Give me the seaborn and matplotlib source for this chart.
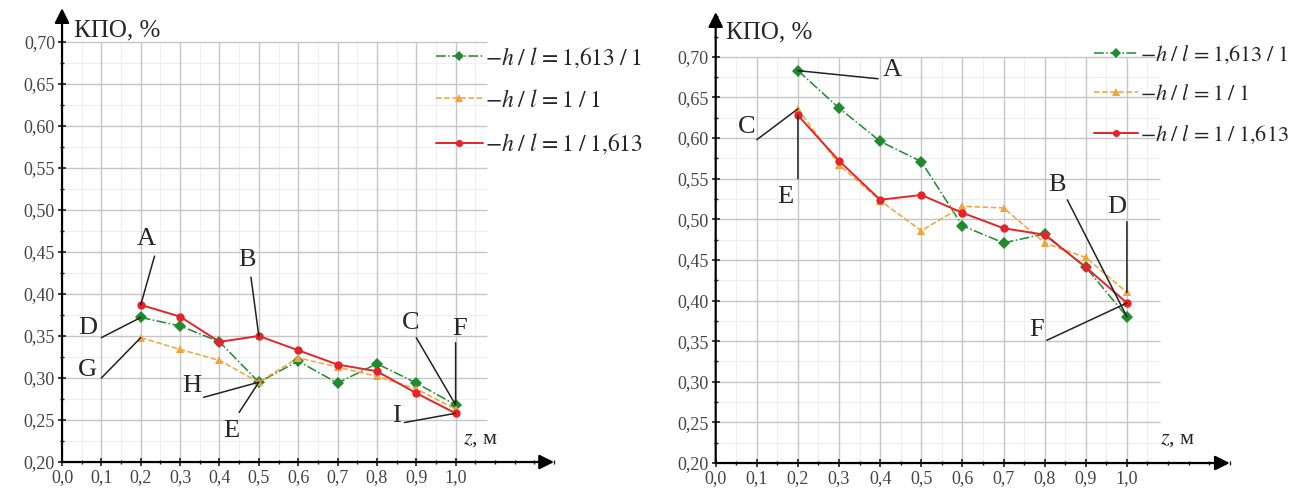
import numpy as np
import pandas as pd
import seaborn as sns
import matplotlib.pyplot as plt
from matplotlib.ticker import MultipleLocator, FuncFormatter

z = [0.2, 0.3, 0.4, 0.5, 0.6, 0.7, 0.8, 0.9, 1.0]

left_h1613 = [0.372, 0.362, 0.343, 0.295, 0.320, 0.294, 0.317, 0.294, 0.268]
left_h11 = [0.348, 0.334, 0.321, 0.295, 0.324, 0.313, 0.302, 0.287, 0.263]
left_h11613 = [0.387, 0.373, 0.343, 0.350, 0.333, 0.316, 0.308, 0.282, 0.258]

right_h1613 = [0.683, 0.637, 0.596, 0.571, 0.492, 0.471, 0.482, 0.441, 0.380]
right_h11 = [0.636, 0.567, 0.523, 0.486, 0.516, 0.514, 0.471, 0.453, 0.410]
right_h11613 = [0.628, 0.572, 0.524, 0.530, 0.508, 0.489, 0.481, 0.441, 0.397]

series_names = ['1,613/1', '1/1', '1/1,613']
labels = [r'$-h\;/\;l\, = 1{,}613\;/\;1$',
          r'$-h\;/\;l\, = 1\;/\;1$',
          r'$-h\;/\;l\, = 1\;/\;1{,}613$']
colors = ['#1f8a2e', '#f2a33a', '#e5232b']
markers = ['D', '^', 'o']
linestyles = ['-.', '--', '-']

x_ticks = np.round(np.arange(0, 1.01, 0.1), 2)
y_ticks = np.round(np.arange(0.20, 0.701, 0.05), 2)

# подписи точек: (метка, серия, z, конец выноски, позиция текста)
left_notes = [
    ('A', '1/1,613', 0.2, (0.235, 0.445), (0.215, 0.465)),
    ('B', '1/1,613', 0.5, (0.48, 0.42), (0.47, 0.44)),
    ('D', '1,613/1', 0.2, (0.10, 0.348), (0.065, 0.36)),
    ('G', '1/1', 0.2, (0.10, 0.30), (0.065, 0.31)),
    ('H', '1/1', 0.5, (0.36, 0.277), (0.33, 0.29)),
    ('E', '1/1', 0.5, (0.45, 0.259), (0.43, 0.237)),
    ('C', '1,613/1', 1.0, (0.90, 0.348), (0.885, 0.366)),
    ('F', '1,613/1', 1.0, (1.0, 0.342), (1.01, 0.358)),
    ('I', '1/1,613', 1.0, (0.87, 0.247), (0.85, 0.255)),
]
right_notes = [
    ('A', '1,613/1', 0.2, (0.395, 0.673), (0.43, 0.684)),
    ('C', '1/1', 0.2, (0.10, 0.598), (0.075, 0.614)),
    ('E', '1/1,613', 0.2, (0.2, 0.55), (0.17, 0.528)),
    ('B', '1,613/1', 1.0, (0.855, 0.524), (0.83, 0.542)),
    ('D', '1/1', 1.0, (1.0, 0.497), (0.975, 0.515)),
    ('F', '1/1,613', 1.0, (0.805, 0.351), (0.78, 0.364)),
]

sns.set_style('white')
plt.rcParams['font.family'] = ['Liberation Serif', 'DejaVu Serif']
plt.rcParams['mathtext.fontset'] = 'stix'

fig = plt.figure(figsize=(13.06, 4.96), dpi=100)
ax_l = fig.add_axes([0.0475, 0.0685, 0.3767, 0.915])
ax_r = fig.add_axes([0.548, 0.0665, 0.3936, 0.909])


def make_df(values):
    frames = []
    for name, vals in zip(series_names, values):
        frames.append(pd.DataFrame({'z': z, 'kpo': vals, 'series': name}))
    return pd.concat(frames, ignore_index=True)


def draw_panel(ax, df, notes, ylim, kpo_pos, zlab_pos, legend_anchor, legend_fs):
    ax.set_xlim(0, 1.25)
    ax.set_ylim(*ylim)

    # сетка только в пределах рабочей области
    ax.vlines(np.arange(0.05, 1.06, 0.1), 0.2, 0.70, color='#efefef', lw=0.8, zorder=0)
    ax.hlines(np.arange(0.225, 0.70, 0.05), 0, 1.08, color='#efefef', lw=0.8, zorder=0)
    ax.vlines(x_ticks[1:], 0.2, 0.70, color='#c6c6c6', lw=1.0, zorder=0)
    ax.hlines(y_ticks[1:], 0, 1.08, color='#c6c6c6', lw=1.0, zorder=0)

    for name, lab, c, m, ls in zip(series_names, labels, colors, markers, linestyles):
        sub = df[df['series'] == name]
        sns.lineplot(data=sub, x='z', y='kpo', ax=ax, color=c, marker=m,
                     linestyle=ls, lw=1.4 if ls == '-' else 1.1, markersize=6,
                     markeredgewidth=0, label=lab, legend=False, zorder=3)

    for letter, name, zz, end, tpos in notes:
        sub = df[(df['series'] == name) & (np.isclose(df['z'], zz))]
        pt = (float(sub['z'].iloc[0]), float(sub['kpo'].iloc[0]))
        ax.annotate('', xy=pt, xytext=end,
                    arrowprops=dict(arrowstyle='-', color='#222222', lw=1.1,
                                    shrinkA=0, shrinkB=0))
        ax.text(tpos[0], tpos[1], letter, fontsize=19, ha='center', va='center')

    for s in ax.spines.values():
        s.set_visible(False)
    ax.annotate('', xy=(1.0, 0), xytext=(0, 0), xycoords='axes fraction',
                arrowprops=dict(arrowstyle='-|>', color='black', lw=1.6,
                                mutation_scale=22, shrinkA=0, shrinkB=0))
    ax.annotate('', xy=(0, 1.0), xytext=(0, 0), xycoords='axes fraction',
                arrowprops=dict(arrowstyle='-|>', color='black', lw=1.6,
                                mutation_scale=22, shrinkA=0, shrinkB=0))

    ax.set_xticks(x_ticks)
    ax.set_yticks(y_ticks)
    ax.xaxis.set_minor_locator(MultipleLocator(0.05))
    ax.yaxis.set_minor_locator(MultipleLocator(0.025))
    ax.xaxis.set_major_formatter(FuncFormatter(lambda v, p: f'{v:.1f}'.replace('.', ',')))
    ax.yaxis.set_major_formatter(FuncFormatter(lambda v, p: f'{v:.2f}'.replace('.', ',')))
    ax.tick_params(axis='both', which='major', direction='inout', length=6, width=1.2,
                   labelsize=13, colors='#222222', labelcolor='#444444', pad=2)
    ax.tick_params(axis='both', which='minor', direction='inout', length=3, width=1.0,
                   colors='#222222')
    ax.tick_params(left=True, bottom=True, which='both')
    ax.set_xlabel('')
    ax.set_ylabel('')

    ax.text(kpo_pos[0], kpo_pos[1], 'КПО, %', fontsize=18, ha='left', va='center')
    ax.text(zlab_pos[0], zlab_pos[1], r'$z$, м', fontsize=16, ha='left', va='center')

    ax.legend(loc='upper left', bbox_to_anchor=legend_anchor, frameon=False,
              fontsize=legend_fs, handlelength=2.0, handletextpad=0.1,
              labelspacing=0.85, borderaxespad=0, markerscale=0.85)


draw_panel(ax_l, make_df([left_h1613, left_h11, left_h11613]), left_notes,
           (0.2, 0.74), (0.03, 0.714), (1.02, 0.227), (0.74, 0.94), 17)
draw_panel(ax_r, make_df([right_h1613, right_h11, right_h11613]), right_notes,
           (0.2, 0.755), (0.025, 0.73), (1.08, 0.229), (0.718, 0.95), 16)

fig.savefig('out.png', dpi=100)
